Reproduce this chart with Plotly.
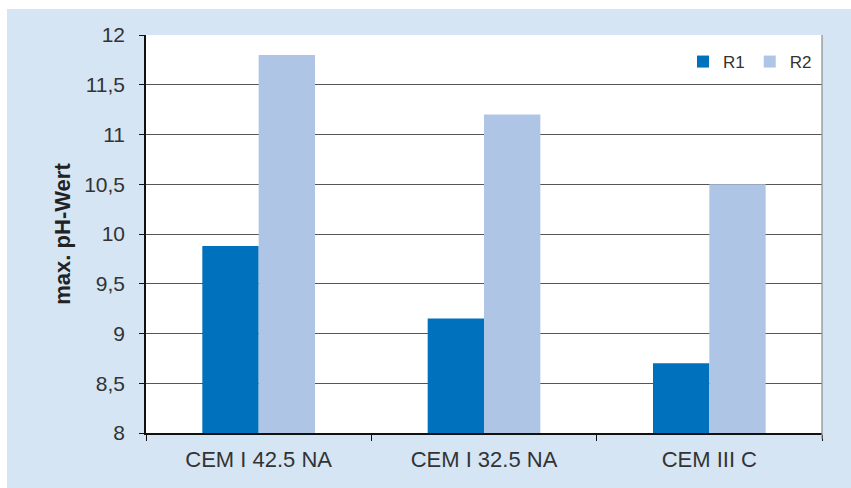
import plotly.graph_objects as go

categories = ["CEM I 42.5 NA", "CEM I 32.5 NA", "CEM III C"]
r1_values = [9.88, 9.15, 8.70]
r2_values = [11.80, 11.20, 10.50]
series_names = ["R1", "R2"]
y_title = "max. pH-Wert"

C_R1 = "#0071BC"
C_R2 = "#AFC5E5"
BG = "#D5E5F4"
TXT = "#333333"
FONT = "Liberation Sans, Arial, sans-serif"

W, H = 851, 488
L, R, T, B = 146, 29, 35, 55
pw, ph = W - L - R, H - T - B

def px_x(px):
    return (px - L) / pw

def px_y(py):
    return (H - B - py) / ph

fig = go.Figure()
fig.add_trace(go.Bar(x=categories, y=r1_values, name=series_names[0], marker=dict(color=C_R1, line=dict(width=0))))
fig.add_trace(go.Bar(x=categories, y=r2_values, name=series_names[1], marker=dict(color=C_R2, line=dict(width=0))))

fig.update_layout(
    width=W, height=H,
    margin=dict(l=L, r=R, t=T, b=B, pad=0),
    paper_bgcolor="white",
    plot_bgcolor="rgba(0,0,0,0)",
    barmode="group",
    bargap=0.5,
    bargroupgap=0,
    separators=",.",
    font=dict(family=FONT, color=TXT),
    showlegend=True,
    legend=dict(
        orientation="h", x=1 - 5 / pw, xanchor="right", y=1 - 9 / ph, yanchor="top",
        bgcolor="rgba(0,0,0,0)", font=dict(size=17, color=TXT, family=FONT),
        itemwidth=30, traceorder="normal",
    ),
    shapes=[
        dict(type="rect", xref="paper", yref="paper", x0=px_x(7), x1=px_x(W + 5), y0=px_y(H + 5), y1=px_y(9),
             fillcolor=BG, line=dict(width=0), layer="below"),
        dict(type="rect", xref="paper", yref="paper", x0=0, x1=1, y0=0, y1=1,
             fillcolor="white", line=dict(width=0), layer="below"),
        dict(type="line", xref="paper", yref="paper", x0=1, x1=1, y0=px_y(H - B + 6), y1=1,
             line=dict(color="#8a8a8a", width=1.2), layer="above"),
    ],
)

fig.update_xaxes(
    type="category",
    showline=True, linecolor="#111111", linewidth=1.5, mirror=False,
    ticks="outside", tickson="boundaries", ticklen=6, tickcolor="#111111", tickwidth=1,
    tickfont=dict(size=22, color=TXT, family=FONT),
    ticklabelstandoff=6,
    showgrid=False,
)
fig.update_yaxes(
    range=[8, 12], dtick=0.5, tick0=8,
    showline=True, linecolor="#111111", linewidth=1.5,
    ticks="outside", ticklen=5, tickcolor="#111111", tickwidth=1,
    tickfont=dict(size=21, color=TXT, family=FONT),
    ticklabelstandoff=10,
    showgrid=True, gridcolor="#555555", gridwidth=1,
    zeroline=False,
    title=dict(text="<b>" + y_title + "</b>", font=dict(size=22, color="#222222", family=FONT), standoff=7),
)

fig.write_html("out.html")
